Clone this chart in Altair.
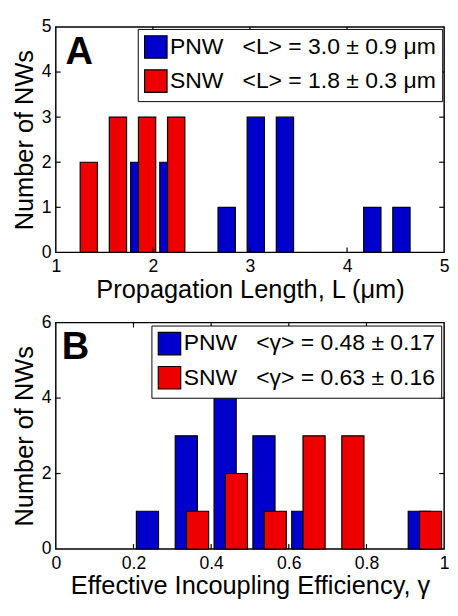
import altair as alt
import pandas as pd

# ---------------- data ----------------
SERIES = ["PNW", "SNW"]

# Panel A: propagation length histogram (bin centre, count)
A_PNW_CENTERS = [1.86, 2.16, 2.76, 3.06, 3.36, 4.26, 4.56]
A_PNW_COUNTS = [2, 2, 1, 3, 3, 1, 1]
A_SNW_CENTERS = [1.34, 1.64, 1.94, 2.24]
A_SNW_COUNTS = [2, 3, 3, 3]
A_LEGEND = ["PNW\u00a0\u00a0\u00a0<L> = 3.0 \u00b1 0.9 \u03bcm",
            "SNW\u00a0\u00a0\u00a0<L> = 1.8 \u00b1 0.3 \u03bcm"]
A_XTICKS = [1, 2, 3, 4, 5]
A_YTICKS = [0, 1, 2, 3, 4, 5]
A_XTITLE = "Propagation Length, L (\u03bcm)"

# Panel B: effective incoupling efficiency histogram
B_PNW_CENTERS = [0.236, 0.336, 0.436, 0.536, 0.636, 0.936]
B_PNW_COUNTS = [1, 3, 4, 3, 1, 1]
B_SNW_CENTERS = [0.365, 0.465, 0.565, 0.665, 0.765, 0.965]
B_SNW_COUNTS = [1, 2, 1, 3, 3, 1]
B_LEGEND = ["PNW\u00a0\u00a0\u00a0<\u03b3> = 0.48 \u00b1 0.17",
            "SNW\u00a0\u00a0\u00a0<\u03b3> = 0.63 \u00b1 0.16"]
B_XTICKS = [0, 0.2, 0.4, 0.6, 0.8, 1]
B_YTICKS = [0, 2, 4, 6]
B_XTITLE = "Effective Incoupling Efficiency, \u03b3"

YTITLE = "Number of NWs"

# ---------------- style ----------------
FONT = "Liberation Sans"
BLUE = "#0000CD"
RED = "#EE0000"
W = 398
TICK = 5


def panel(pc, pn, sc, sn, bar_w, xdom, ydom, xticks, yticks, xtitle, legend_labels,
          letter, letter_x, letter_y, leg_offset, h):
    rows = [{"center": c, "count": n, "series": SERIES[0]} for c, n in zip(pc, pn)]
    rows += [{"center": c, "count": n, "series": SERIES[1]} for c, n in zip(sc, sn)]
    df = pd.DataFrame(rows)
    half = bar_w / 2
    xs = alt.Scale(domain=xdom, nice=False, zero=False)
    ys = alt.Scale(domain=ydom, nice=False)
    xax = alt.Axis(values=xticks, title=xtitle, format="~g", labelFlush=False)
    yax = alt.Axis(values=yticks, title=YTITLE)
    label_expr = (f"datum.label == '{SERIES[0]}' ? '{legend_labels[0]}' : '{legend_labels[1]}'")

    bars = alt.Chart(df).transform_calculate(
        x0=f"datum.center - {half}", x1=f"datum.center + {half}"
    ).mark_rect(stroke="black", strokeWidth=1.2).encode(
        x=alt.X("x0:Q", scale=xs, axis=xax),
        x2="x1:Q",
        y=alt.Y("count:Q", scale=ys, axis=yax),
        y2=alt.datum(0),
        color=alt.Color(
            "series:N",
            scale=alt.Scale(domain=SERIES, range=[BLUE, RED]),
            legend=alt.Legend(
                title=None, orient="top-right", offset=leg_offset,
                symbolType="square", symbolSize=529,
                symbolStrokeColor="black", symbolStrokeWidth=1.2,
                labelFontSize=23.5, labelFont=FONT, labelColor="black",
                labelLimit=400, labelOffset=2,
                padding=6, rowPadding=6,
                strokeColor="black", fillColor="white", cornerRadius=0,
                labelExpr=label_expr,
            ),
        ),
    )

    inner_x = [v for v in xticks if xdom[0] < v < xdom[1]]
    inner_y = [v for v in yticks if ydom[0] < v < ydom[1]]
    xdf = pd.DataFrame({"v": inner_x})
    ydf = pd.DataFrame({"v": inner_y})
    rule = dict(color="black", strokeWidth=1.2)
    xb = alt.Chart(xdf).mark_rule(**rule).encode(
        x=alt.X("v:Q", scale=xs, axis=xax), y=alt.value(h), y2=alt.value(h - TICK))
    xt = alt.Chart(xdf).mark_rule(**rule).encode(
        x=alt.X("v:Q", scale=xs, axis=xax), y=alt.value(0), y2=alt.value(TICK))
    yl = alt.Chart(ydf).mark_rule(**rule).encode(
        y=alt.Y("v:Q", scale=ys, axis=yax), x=alt.value(0), x2=alt.value(TICK))
    yr = alt.Chart(ydf).mark_rule(**rule).encode(
        y=alt.Y("v:Q", scale=ys, axis=yax), x=alt.value(W - TICK), x2=alt.value(W))

    lab = alt.Chart(pd.DataFrame({"t": [letter]})).mark_text(
        font=FONT, fontSize=39, fontWeight="bold", color="black",
        align="left", baseline="alphabetic",
    ).encode(text="t:N", x=alt.value(letter_x), y=alt.value(letter_y))

    return alt.layer(bars, xb, xt, yl, yr, lab).properties(width=W, height=h)


pA = panel(A_PNW_CENTERS, A_PNW_COUNTS, A_SNW_CENTERS, A_SNW_COUNTS, 0.178,
           [1, 5], [0, 5], A_XTICKS, A_YTICKS, A_XTITLE, A_LEGEND, "A", 10, 38, 2, 231)
pB = panel(B_PNW_CENTERS, B_PNW_COUNTS, B_SNW_CENTERS, B_SNW_COUNTS, 0.057,
           [0, 1], [0, 6], B_XTICKS, B_YTICKS, B_XTITLE, B_LEGEND, "B", 6, 37, 3, 232)

chart = alt.vconcat(pA, pB, spacing=10).resolve_scale(
    color="independent", x="independent", y="independent"
).configure(
    font=FONT, padding={"left": 3, "top": 2, "right": 0, "bottom": 0}
).configure_view(
    stroke="black", strokeWidth=1.5
).configure_axis(
    labelFont=FONT, titleFont=FONT, labelFontSize=18, titleFontSize=26,
    titleFontWeight="normal", labelColor="black", titleColor="black",
    grid=False, ticks=False, domain=False,
).configure_axisX(
    labelPadding=6, titlePadding=1,
).configure_axisY(
    labelPadding=5, titlePadding=4,
)

chart.save("out.html", embed_options={"renderer": "svg", "actions": False})
